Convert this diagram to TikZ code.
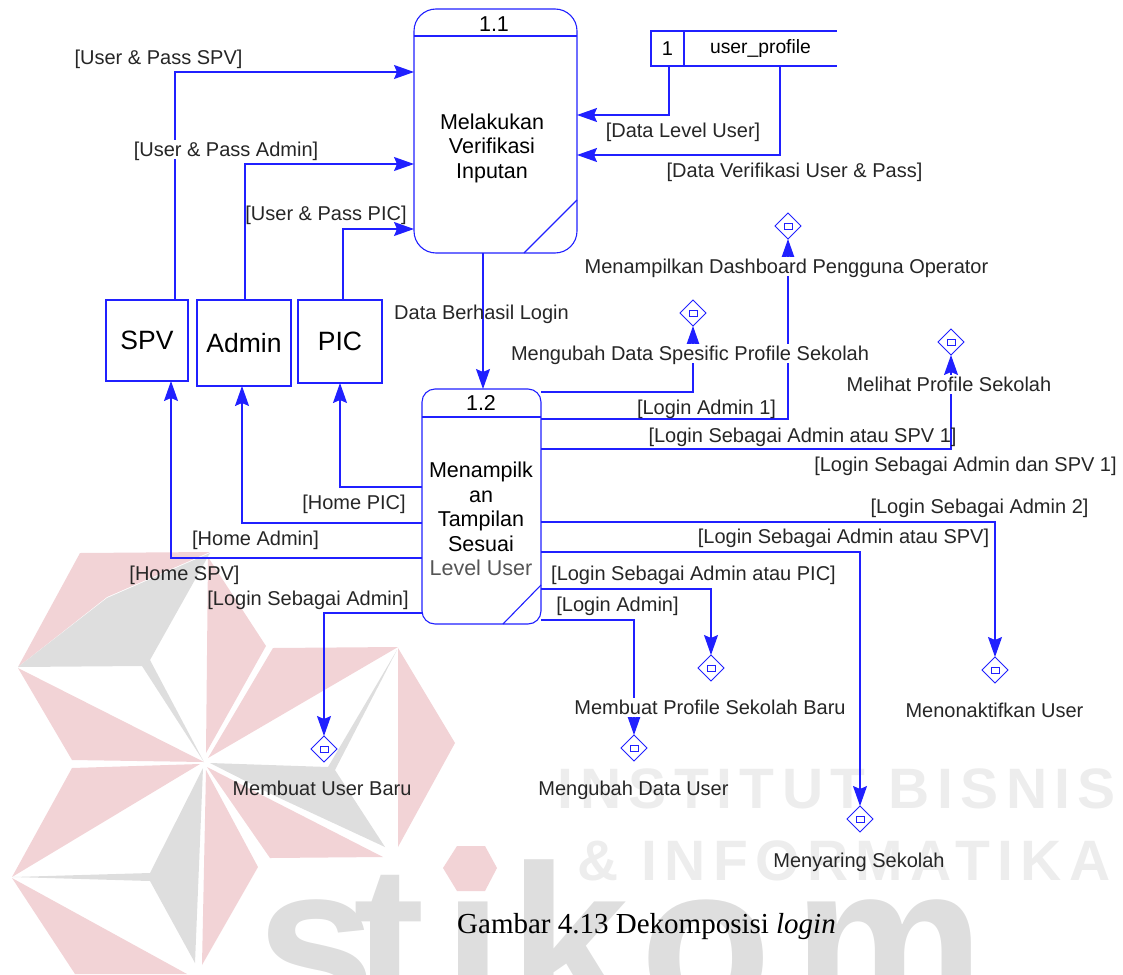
\documentclass[tikz,border=0pt]{standalone}
\usepackage{fontspec}
\setmainfont{Liberation Sans}
\newfontfamily\capfont{Liberation Serif}
\newfontfamily\wmfont[LetterSpace=13]{Liberation Sans}
\usetikzlibrary{arrows.meta,shapes.geometric}
\definecolor{flowblue}{HTML}{2020FF}
\definecolor{wmpink}{HTML}{F2D3D6}
\definecolor{wmgrey}{HTML}{DEDEDE}
\definecolor{wmtext}{HTML}{EDEDED}
\definecolor{lvlgrey}{HTML}{555555}
\tikzset{
  entity/.style={draw=flowblue,line width=1.1pt,outer sep=0pt,inner sep=0pt,font=\fontsize{26.5}{30}\selectfont},
  process/.style={draw=flowblue,line width=1.1pt,outer sep=0pt,inner sep=0pt},
  proctext/.style={align=center,inner sep=0pt,font=\fontsize{21.5}{24.5}\selectfont},
  lbl/.style={inner sep=0pt,text height=17pt,text depth=2pt,text=black!85,font=\fontsize{20}{24}\selectfont},
  lblcut/.style={lbl,fill=white,inner xsep=1pt},
  flow/.style={->,draw=flowblue,line width=1.3pt},
  edge/.style={draw=flowblue,line width=1.1pt},
  feed/.style={diamond,draw=flowblue,line width=.8pt,inner sep=0pt,outer sep=0pt,minimum size=26pt,
    path picture={\draw[flowblue,line width=.9pt] ([xshift=-4pt,yshift=-3pt]path picture bounding box.center) rectangle ([xshift=4pt,yshift=3pt]path picture bounding box.center);}},
  wmbig/.style={inner sep=0pt,anchor=base west,text=wmgrey,font=\fontsize{215}{220}\selectfont\bfseries},
  wmline/.style={inner sep=0pt,anchor=base west,text=wmtext,font=\fontsize{57}{60}\selectfont\wmfont\bfseries}
}
\begin{document}
\begin{tikzpicture}[x=1pt,y=-1pt,>={Stealth[length=20pt,width=14pt,inset=3pt]}]
\useasboundingbox (0,0) rectangle (1123,974);
% watermark
\begin{scope}
\clip (0,0) rectangle (1123,974);
\fill[wmpink] (80,553)--(210,552)--(107,597)--(18,667)--cycle;
\fill[wmgrey] (210,553)--(150,660)--(204,762)--(142,666)--(18,667)--(107,598)--cycle;
\fill[wmpink] (18,668)--(204,762)--(72,760)--cycle;
\fill[wmpink] (208,557)--(266,646)--(206,753)--cycle;
\fill[wmpink] (273,648)--(398,647)--(208,758)--cycle;
\fill[wmgrey] (397,650)--(335,770)--(385,847)--(273,795)--(210,763)--(328,767)--cycle;
\fill[wmpink] (207,767)--(383,857)--(270,858)--cycle;
\fill[wmpink] (398,648)--(455,743)--(398,847)--cycle;
\fill[wmpink] (72,768)--(200,764)--(12,877)--cycle;
\fill[wmgrey] (203,768)--(150,873)--(13,877)--(150,881)--(195,963)--cycle;
\fill[wmpink] (206,770)--(258,867)--(202,965)--cycle;
\fill[wmpink] (12,878)--(187,974)--(75,974)--cycle;
\foreach \ch/\xpos in {s/256,t/353,i/443,k/509,o/640,m/793}
  \node[wmbig] (wm\ch) at (\xpos,1015) {\ch};
\fill[wmpink] (443,868)--(457,846)--(485,846)--(497,868)--(485,891)--(457,891)--cycle;
\node[wmline] (wminstitut) at (557,808) {INSTITUT BISNIS};
\node[wmline] (wminformatika) at (577,880) {\& INFORMATIKA};
\end{scope}

% proses
\node[process,rounded corners=22pt,minimum width=163pt,minimum height=244pt] (verifikasi) at (495.5,131) {};
\node[process,rounded corners=13pt,minimum width=119pt,minimum height=235pt] (tampilan) at (481.5,506.5) {};
\coordinate (headA) at (0,36);
\coordinate (headB) at (0,417);
\draw[edge] (verifikasi.west |- headA) -- (verifikasi.east |- headA);
\draw[edge] (tampilan.west |- headB) -- (tampilan.east |- headB);
\coordinate (cutA) at (524,200);
\coordinate (cutB) at (503,585);
\draw[edge] (cutA -| verifikasi.east) -- (cutA |- verifikasi.south);
\draw[edge] (tampilan.east |- cutB) -- (cutB |- tampilan.south);
\node[proctext] (nomorA) at (494,24) {1.1};
\node[proctext] (nomorB) at (481,403) {1.2};
\node[proctext] (verifikasitext) at (492,148) {Melakukan\\Verifikasi\\Inputan};
\node[proctext] (tampilantext) at (481,519) {Menampilk\\an\\Tampilan\\Sesuai\\{\color{lvlgrey}Level User}};

% entitas dan store
\node[entity,minimum width=82pt,minimum height=81pt] (spv) at (147,340.5) {SPV};
\node[entity,minimum width=94pt,minimum height=86pt] (admin) at (244,343) {Admin};
\node[entity,minimum width=84pt,minimum height=83pt] (pic) at (340,341.5) {PIC};
\node[process,minimum width=33pt,minimum height=35pt,font=\fontsize{20}{24}\selectfont] (storeid) at (667.5,48.5) {1};
\node[minimum width=153pt,minimum height=35pt,inner sep=0pt,outer sep=0pt,font=\fontsize{19.3}{24}\selectfont] (storename) at (760.5,48.5) {\raisebox{-2pt}{user\_profile}};
\draw[edge] (storeid.north east) -- (storename.north east);
\draw[edge] (storeid.south east) -- (storename.south east);

% diamond
\node[feed] (fSpesific) at (693,313) {};
\node[feed] (fDashboard) at (788,226) {};
\node[feed] (fMelihat) at (951,342) {};
\node[feed] (fNonaktif) at (995,670) {};
\node[feed] (fSaring) at (860,819) {};
\node[feed] (fProfile) at (711,668) {};
\node[feed] (fMengubah) at (634,748) {};
\node[feed] (fUser) at (324,749) {};

% aliran
\coordinate (pSpv) at (175,72);
\coordinate (pAdmin) at (245,164);
\coordinate (pPic) at (343,229);
\draw[flow] (pSpv |- spv.north) -- (pSpv) -- (pSpv -| verifikasi.west);
\draw[flow] (pAdmin |- admin.north) -- (pAdmin) -- (pAdmin -| verifikasi.west);
\draw[flow] (pPic |- pic.north) -- (pPic) -- (pPic -| verifikasi.west);
\coordinate (pLevel) at (669,115);
\coordinate (pVerif) at (780,155);
\draw[flow] (pLevel |- storeid.south) -- (pLevel) -- (pLevel -| verifikasi.east);
\draw[flow] (pVerif |- storename.south) -- (pVerif) -- (pVerif -| verifikasi.east);
\coordinate (pLogin) at (483,300);
\draw[flow] (pLogin |- verifikasi.south) -- (pLogin |- tampilan.north);
\coordinate (hPic) at (340,487);
\coordinate (hAdmin) at (242,523);
\coordinate (hSpv) at (171,558);
\draw[flow] (hPic -| tampilan.west) -- (hPic) -- (hPic |- pic.south);
\draw[flow] (hAdmin -| tampilan.west) -- (hAdmin) -- (hAdmin |- admin.south);
\draw[flow] (hSpv -| tampilan.west) -- (hSpv) -- (hSpv |- spv.south);
\coordinate (oUser) at (324,613);
\coordinate (oSpesific) at (693,392);
\coordinate (oDashboard) at (788,419);
\coordinate (oMelihat) at (951,449);
\coordinate (oNonaktif) at (995,522);
\coordinate (oSaring) at (860,552);
\coordinate (oProfile) at (711,589);
\coordinate (oMengubah) at (634,620);
\draw[flow] (oUser -| tampilan.west) -- (oUser) -- (fUser.north);
\draw[flow] (oSpesific -| tampilan.east) -- (oSpesific) -- (fSpesific.south);
\draw[flow] (oDashboard -| tampilan.east) -- (oDashboard) -- (fDashboard.south);
\draw[flow] (oMelihat -| tampilan.east) -- (oMelihat) -- (fMelihat.south);
\draw[flow] (oNonaktif -| tampilan.east) -- (oNonaktif) -- (fNonaktif.north);
\draw[flow] (oSaring -| tampilan.east) -- (oSaring) -- (fSaring.north);
\draw[flow] (oProfile -| tampilan.east) -- (oProfile) -- (fProfile.north);
\draw[flow] (oMengubah -| tampilan.east) -- (oMengubah) -- (fMengubah.north);

% label
\node[lbl] (lSpv) at (158.5,57) {[User \& Pass SPV]};
\node[lblcut] (lAdmin) at (226,149) {[User \& Pass Admin]};
\node[lbl] (lPic) at (326,213) {[User \& Pass PIC]};
\node[lbl] (lLevel) at (683,130) {[Data Level User]};
\node[lbl] (lVerif) at (794.5,170) {[Data Verifikasi User \& Pass]};
\node[lbl] (lBerhasil) at (481.5,312) {Data Berhasil Login};
\node[lblcut] (lDash) at (786.5,266) {Menampilkan Dashboard Pengguna Operator};
\node[lblcut] (lSpes) at (690,353) {Mengubah Data Spesific Profile Sekolah};
\node[lblcut] (lMelihat) at (949,384) {Melihat Profile Sekolah};
\node[lbl] (lAdm1) at (706.5,407) {[Login Admin 1]};
\node[lbl] (lAtauSpv1) at (802.5,435) {[Login Sebagai Admin atau SPV 1]};
\node[lbl] (lDanSpv1) at (965.5,464) {[Login Sebagai Admin dan SPV 1]};
\node[lbl] (lAdm2) at (979.5,506) {[Login Sebagai Admin 2]};
\node[lbl] (lAtauSpv) at (843.5,536) {[Login Sebagai Admin atau SPV]};
\node[lbl] (lAtauPic) at (693.5,573) {[Login Sebagai Admin atau PIC]};
\node[lbl] (lLogAdm) at (617.5,604) {[Login Admin]};
\node[lbl] (lHomePic) at (354,502) {[Home PIC]};
\node[lbl] (lHomeAdm) at (255.5,538) {[Home Admin]};
\node[lbl] (lHomeSpv) at (184.5,573) {[Home SPV]};
\node[lbl] (lLogSeb) at (308,598) {[Login Sebagai Admin]};
\node[lbl] (lBaru) at (322,788) {Membuat User Baru};
\node[lbl] (lData) at (633.5,788) {Mengubah Data User};
\node[lblcut] (lProf) at (710,707) {Membuat Profile Sekolah Baru};
\node[lbl] (lNonaktif) at (994.5,710) {Menonaktifkan User};
\node[lbl] (lSaring) at (859,860) {Menyaring Sekolah};
\node[inner sep=0pt,font=\fontsize{29}{32}\selectfont\capfont] (caption) at (646.5,927) {Gambar 4.13 Dekomposisi \textit{login}};
\end{tikzpicture}
\end{document}
